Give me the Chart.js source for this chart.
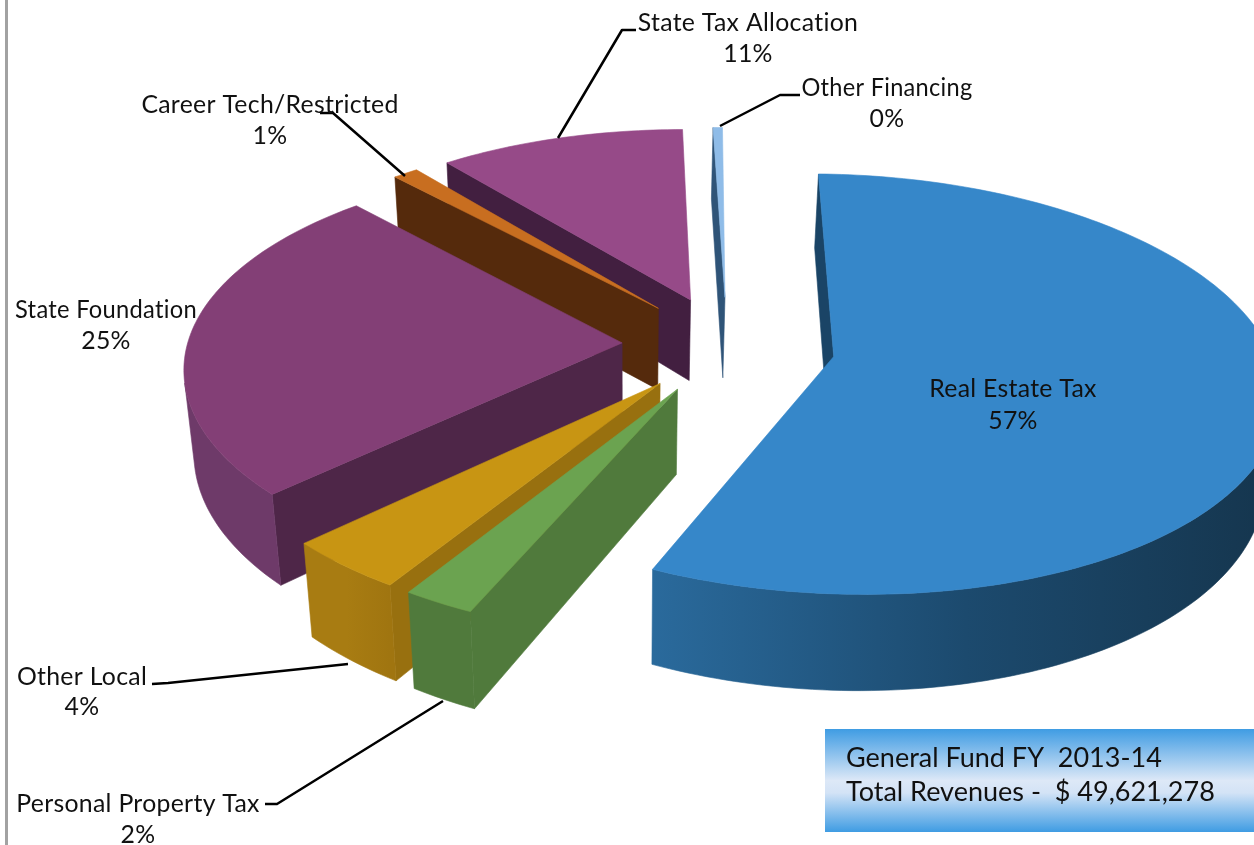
<!DOCTYPE html>
<html><head><meta charset="utf-8">
<style>html,body{margin:0;padding:0;background:#fff;overflow:hidden}#wrap{position:relative;width:1254px;height:845px}</style>
<script src="https://cdn.jsdelivr.net/npm/chart.js@4/dist/chart.umd.min.js"></script>
</head><body><div id="wrap"><canvas id="c" width="1254" height="845"></canvas></div>
<script>
const categories = ["Real Estate Tax","Personal Property Tax","Other Local","State Foundation","Career Tech/Restricted","State Tax Allocation","Other Financing"];
const revenueShare = [56.6,2.3,3.9,25.2,1.1,10.6,0.4];
const boxLines = ["General Fund FY  2013-14","Total Revenues -  $ 49,621,278"];

const topColors = ["#3687C9","#6BA350","#C89513","#833F76","#C86E20","#964A88","#8FBCE8"];
const radialWallColors = ["#1A4466","#507A3C","#98700F","#4E2648","#552A0C","#421F40","#2F5478"];
const outerWallColors = [["#2A6A9C","#1C4A6E","#15354D"],["#507A3C","#507A3C","#507A3C"],["#A87C12","#A87C12","#A07510"],["#6E3A69","#6E3A69","#6E3A69"],["#552A0C","#552A0C","#552A0C"],["#421F40","#421F40","#421F40"],["#2F5478","#2F5478","#2F5478"]];
const explode = [108,105,105,105,105,105,105];
const drawOrder = [6,5,4,3,2,1,0];

const camera = {cy:345, k:0.468, q:0.0003, depth:83, taper:0.00027};
const labelLayout = [
 {x:1013,y:389,lh:32},
 {x:138,y:804,lh:31,line:[[265,804],[277,804],[443,701]]},
 {x:82,y:677,lh:30,line:[[152,684],[168,683],[348,664]]},
 {x:106,y:310,lh:31,w:182},
 {x:270,y:105,lh:31,line:[[320,113],[333,113],[405,176]]},
 {x:748,y:23,lh:31,line:[[636,30],[622,30],[558,138]]},
 {x:887,y:88,lh:31,w:171,line:[[800,95],[780,95],[720,126]]}
];
const FONT = '24.8px Lato, "Open Sans", sans-serif';

function pct(i){const t=revenueShare.reduce((a,b)=>a+b,0);return Math.round(revenueShare[i]/t*100)+'%';}

const pie3d = {
 id:'pie3d',
 beforeDatasetDraw(chart){
  const ctx=chart.ctx, els=chart.getDatasetMeta(0).data, vx=chart.width/2;
  const proj=(el,px,py,z)=>{
    const Xw=px-vx,Yw=py-el.y,d=1/(1-Yw*camera.q),zs=z*d;
    const sx=vx+Xw*d*(1-zs*camera.taper);
    return [sx,camera.cy+Yw*camera.k*d+zs];
  };
  const poly=(pts,fill)=>{ctx.beginPath();pts.forEach((p,i)=>i?ctx.lineTo(p[0],p[1]):ctx.moveTo(p[0],p[1]));ctx.closePath();ctx.fillStyle=fill;ctx.strokeStyle=fill;ctx.lineWidth=0.6;ctx.fill();ctx.stroke();};
  drawOrder.forEach(i=>{
    const el=els[i], o=el.options.offset, mid=(el.startAngle+el.endAngle)/2;
    const ax=el.x+o*Math.cos(mid), ay=el.y+o*Math.sin(mid), R=el.outerRadius;
    const rim=[]; const n=Math.max(2,Math.ceil((el.endAngle-el.startAngle)/0.02));
    for(let s=0;s<=n;s++){const a=el.startAngle+(el.endAngle-el.startAngle)*s/n;rim.push([ax+R*Math.cos(a),ay+R*Math.sin(a)]);}
    const faces=(p,q)=>{
      const A=proj(el,p[0],p[1],0),B=proj(el,q[0],q[1],0),C=proj(el,q[0],q[1],camera.depth),D=proj(el,p[0],p[1],camera.depth);
      const area=(A[0]*B[1]-B[0]*A[1])+(B[0]*C[1]-C[0]*B[1])+(C[0]*D[1]-D[0]*C[1])+(D[0]*A[1]-A[0]*D[1]);
      return area<0;
    };
    const band=(pts,fill)=>{
      const t=pts.map(p=>proj(el,p[0],p[1],0)),b=pts.map(p=>proj(el,p[0],p[1],camera.depth)).reverse();
      poly([...t,...b],fill);
    };
    const apex=[ax,ay];
    if(faces(apex,rim[0])) band([apex,rim[0]],radialWallColors[i]);
    if(faces(rim[rim.length-1],apex)) band([rim[rim.length-1],apex],radialWallColors[i]);
    const xs=rim.map(p=>proj(el,p[0],p[1],0)[0]);
    const g=ctx.createLinearGradient(Math.min(...xs),0,Math.max(...xs),0);
    outerWallColors[i].forEach((c,j,all)=>g.addColorStop(j/(all.length-1),c));
    let run=[];
    for(let s=0;s<rim.length-1;s++){
      if(faces(rim[s],rim[s+1])){ if(!run.length) run.push(rim[s]); run.push(rim[s+1]); }
      else if(run.length){ band(run,g); run=[]; }
    }
    if(run.length) band(run,g);
    poly([apex,...rim].map(p=>proj(el,p[0],p[1],0)),el.options.backgroundColor);
  });
  return false;
 },
 afterDraw(chart){
  const ctx=chart.ctx; ctx.save();
  ctx.fillStyle='#A2A2A2';ctx.fillRect(5,0,3,chart.height);
  ctx.strokeStyle='#000';ctx.lineWidth=2.5;ctx.lineJoin='round';
  labelLayout.forEach(l=>{if(!l.line)return;ctx.beginPath();l.line.forEach((p,i)=>i?ctx.lineTo(p[0],p[1]):ctx.moveTo(p[0],p[1]));ctx.stroke();});
  ctx.fillStyle='#111';ctx.font=FONT;ctx.letterSpacing='0.3px';ctx.textAlign='center';ctx.textBaseline='middle';
  labelLayout.forEach((l,i)=>{ctx.fillText(categories[i],l.x,l.y,l.w||9999);ctx.fillText(pct(i),l.x,l.y+l.lh);});
  const g=ctx.createLinearGradient(0,729,0,832);
  g.addColorStop(0,'#3F9CE3');g.addColorStop(0.5,'#DDE8F7');g.addColorStop(0.62,'#D3E3F6');g.addColorStop(1,'#3F9CE3');
  ctx.fillStyle=g;ctx.fillRect(825,729,429,103);
  ctx.fillStyle='#111';ctx.letterSpacing='0px';ctx.font='27px Lato, "Open Sans", sans-serif';ctx.textAlign='left';
  ctx.fillText(boxLines[0],846,758);ctx.fillText(boxLines[1],846,792);
  ctx.restore();
 }
};
new Chart(document.getElementById('c'),{
 type:'pie',
 data:{labels:categories,datasets:[{data:revenueShare,backgroundColor:topColors,offset:explode,borderWidth:0}]},
 options:{responsive:false,animation:false,radius:435,rotation:1.3,
  layout:{padding:{left:200}},
  plugins:{legend:{display:false},tooltip:{enabled:false},title:{display:false}}},
 plugins:[pie3d]
});
</script></body></html>
